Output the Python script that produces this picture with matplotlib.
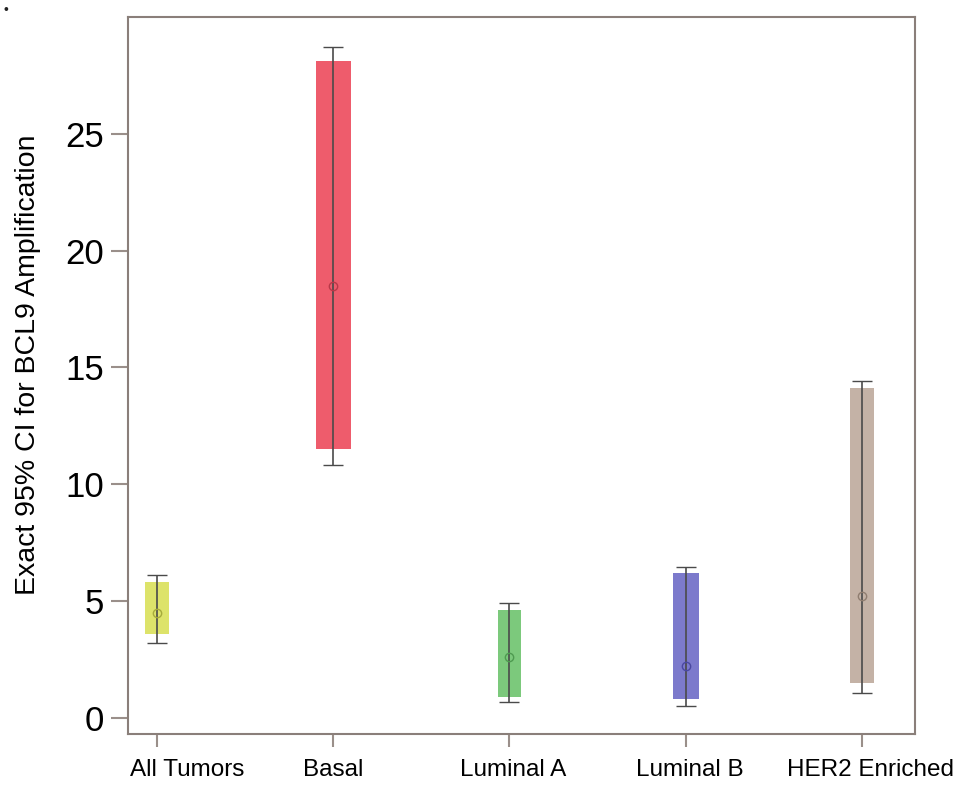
import matplotlib
matplotlib.use("Agg")
import matplotlib.pyplot as plt
import numpy as np

plt.rcParams['font.family'] = ['Liberation Sans', 'DejaVu Sans']

# 아형별 BCL9 증폭 정확 95% 신뢰구간 값
groups = ["All Tumors", "Basal", "Luminal A", "Luminal B", "HER2 Enriched"]
point_est = [4.5, 18.5, 2.6, 2.2, 5.2]
box_low = [3.6, 11.5, 0.9, 0.8, 1.5]
box_high = [5.8, 28.1, 4.6, 6.2, 14.1]
ci_low = [3.2, 10.8, 0.65, 0.5, 1.05]
ci_high = [6.1, 28.7, 4.9, 6.45, 14.4]
colors = ["#dde36a", "#ee5c6c", "#7cc97c", "#7c7acc", "#c4b2a6"]
edge_colors = ["#a6ab3c", "#b83848", "#4e9a50", "#4a48a0", "#8f7d70"]
box_widths = [0.14, 0.2, 0.125, 0.15, 0.14]
y_ticks = [0, 5, 10, 15, 20, 25]
# 원본 그림에서 x축 라벨이 틱보다 약간 오른쪽에 있음 (픽셀)
label_shift = [30, 0, 4, 4, 9]

fig = plt.figure(figsize=(9.65, 7.85), dpi=100)
ax = fig.add_axes([0.1326, 0.0650, 0.8154, 0.9133])

x = np.arange(1, len(groups) + 1)
for i in range(len(groups)):
    ax.bar(x[i], box_high[i] - box_low[i], bottom=box_low[i], width=box_widths[i],
           color=colors[i], edgecolor="none", zorder=2)
    ax.errorbar(x[i], point_est[i],
                yerr=[[point_est[i] - ci_low[i]], [ci_high[i] - point_est[i]]],
                fmt="o", mfc="none", mec=edge_colors[i], ms=6, mew=1,
                ecolor="#4a4a4a", elinewidth=1.2, capsize=7, capthick=1.2, zorder=3)

ax.set_xlim(0.835, 5.30)
ax.set_ylim(-0.70, 30)
ax.set_xticks(x)
ax.set_xticklabels([""] * len(groups))
ax.set_yticks(y_ticks)
ax.set_yticklabels([str(t) for t in y_ticks], fontsize=25)
ax.set_ylabel("Exact 95% CI for BCL9 Amplification", fontsize=20.5)
ax.yaxis.set_label_coords(-0.111, 0.515)

# x축 라벨은 직접 그림 (틱 기준 오프셋 적용)
for i, g in enumerate(groups):
    ax.annotate(g, xy=(x[i], 0), xycoords=ax.get_xaxis_transform(),
                xytext=(label_shift[i] * 0.72, -18), textcoords="offset points",
                ha="center", va="top", fontsize=17.5, annotation_clip=False)

for s in ax.spines.values():
    s.set_color("#8a7f7a")
    s.set_linewidth(1.5)
ax.tick_params(axis="y", length=12, width=1.5, color="#9a8f8a", pad=5)
ax.tick_params(axis="x", length=9.5, width=1.5, color="#9a8f8a")

fig.text(0.004, 0.982, "•", fontsize=10, color="#222222")

fig.savefig("out.png", dpi=100)
